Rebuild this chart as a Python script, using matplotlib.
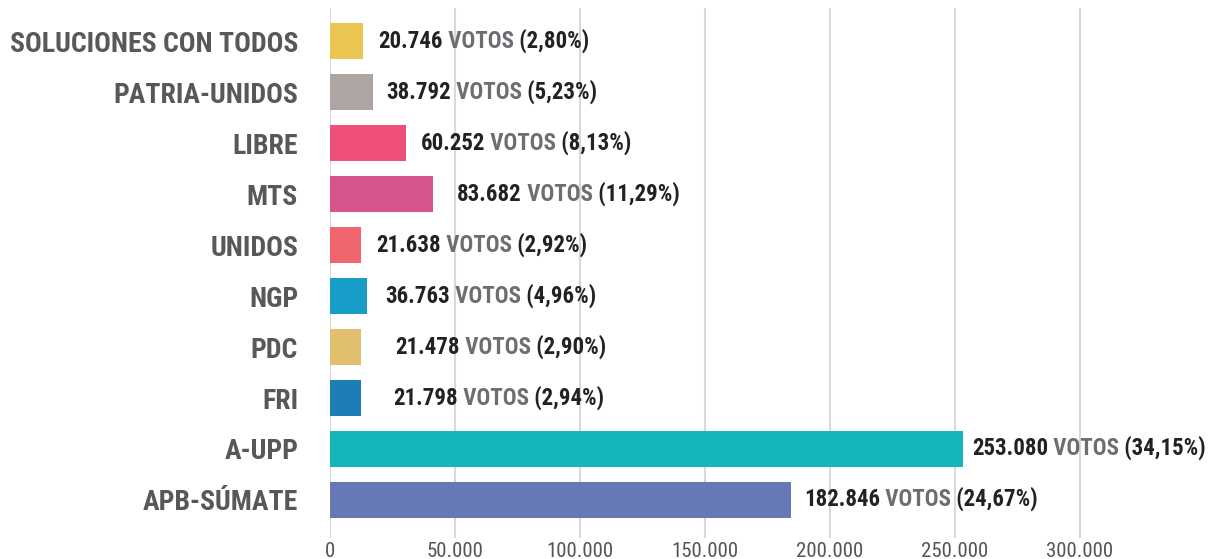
import matplotlib
matplotlib.use('Agg')
import matplotlib.pyplot as plt

# parties, top to bottom as in the chart
partidos = ['SOLUCIONES CON TODOS', 'PATRIA-UNIDOS', 'LIBRE', 'MTS', 'UNIDOS',
            'NGP', 'PDC', 'FRI', 'A-UPP', 'APB-SÚMATE']
votos_txt = ['20.746', '38.792', '60.252', '83.682', '21.638',
             '36.763', '21.478', '21.798', '253.080', '182.846']
porcentaje_txt = ['2,80%', '5,23%', '8,13%', '11,29%', '2,92%',
                  '4,96%', '2,90%', '2,94%', '34,15%', '24,67%']
# bar lengths as drawn in the original (small bars are not to scale there)
largo_barra = [13200, 17200, 30400, 41200, 12400, 14800, 12400, 12400, 253200, 184400]
colores = ['#ebc653', '#ada5a2', '#ef5077', '#d4548b', '#f0646e',
           '#179dc8', '#e2bf6e', '#1d7db5', '#16b5b9', '#6679b6']
ticks = [0, 50000, 100000, 150000, 200000, 250000, 300000]
tick_labels = ['0', '50.000', '100.000', '150.000', '200.000', '250.000', '300.000']

# gap between bar end and its label (pixels), the original is uneven
gap_px = [15, 13, 15, 24, 15, 18, 34, 32, 9, 13]

plt.rcParams['font.family'] = ['Roboto Condensed', 'Barlow Semi Condensed', 'DejaVu Sans']

fig = plt.figure(figsize=(12.09, 5.59), dpi=100)
ax = fig.add_axes([0.273, 0.0376, 0.703, 0.948])

pos = list(range(len(partidos)))
ax.barh(pos, largo_barra, height=0.72, color=colores, zorder=3)

ax.set_xlim(0, 340000)
ax.set_ylim(9.745, -0.647)
ax.set_xticks(ticks)
ax.set_xticklabels(tick_labels, fontsize=15, color='#555555')
ax.set_yticks(pos)
ax.set_yticklabels(partidos, fontsize=20, fontweight='bold', color='#58585a')
ax.tick_params(axis='y', length=0, pad=23)
ax.tick_params(axis='x', length=0, pad=3)
ax.grid(axis='x', color='#d9d9d9', linewidth=1.5, zorder=0)
for s in ax.spines.values():
    s.set_visible(False)

for i in pos:
    t1 = ax.annotate(votos_txt[i], xy=(largo_barra[i], i), xytext=(gap_px[i], 0),
                     textcoords='offset pixels', va='center', ha='left',
                     fontsize=16.5, fontweight='bold', color='#222222', zorder=4)
    t2 = ax.annotate(' VOTOS', xy=(1, 0), xycoords=t1, va='bottom', ha='left',
                     fontsize=16.5, fontweight='bold', color='#6d6d72', zorder=4)
    ax.annotate(' (' + porcentaje_txt[i] + ')', xy=(1, 0), xycoords=t2,
                va='bottom', ha='left', fontsize=16.5, fontweight='bold',
                color='#222222', zorder=4)

fig.savefig('out.png', dpi=100)
